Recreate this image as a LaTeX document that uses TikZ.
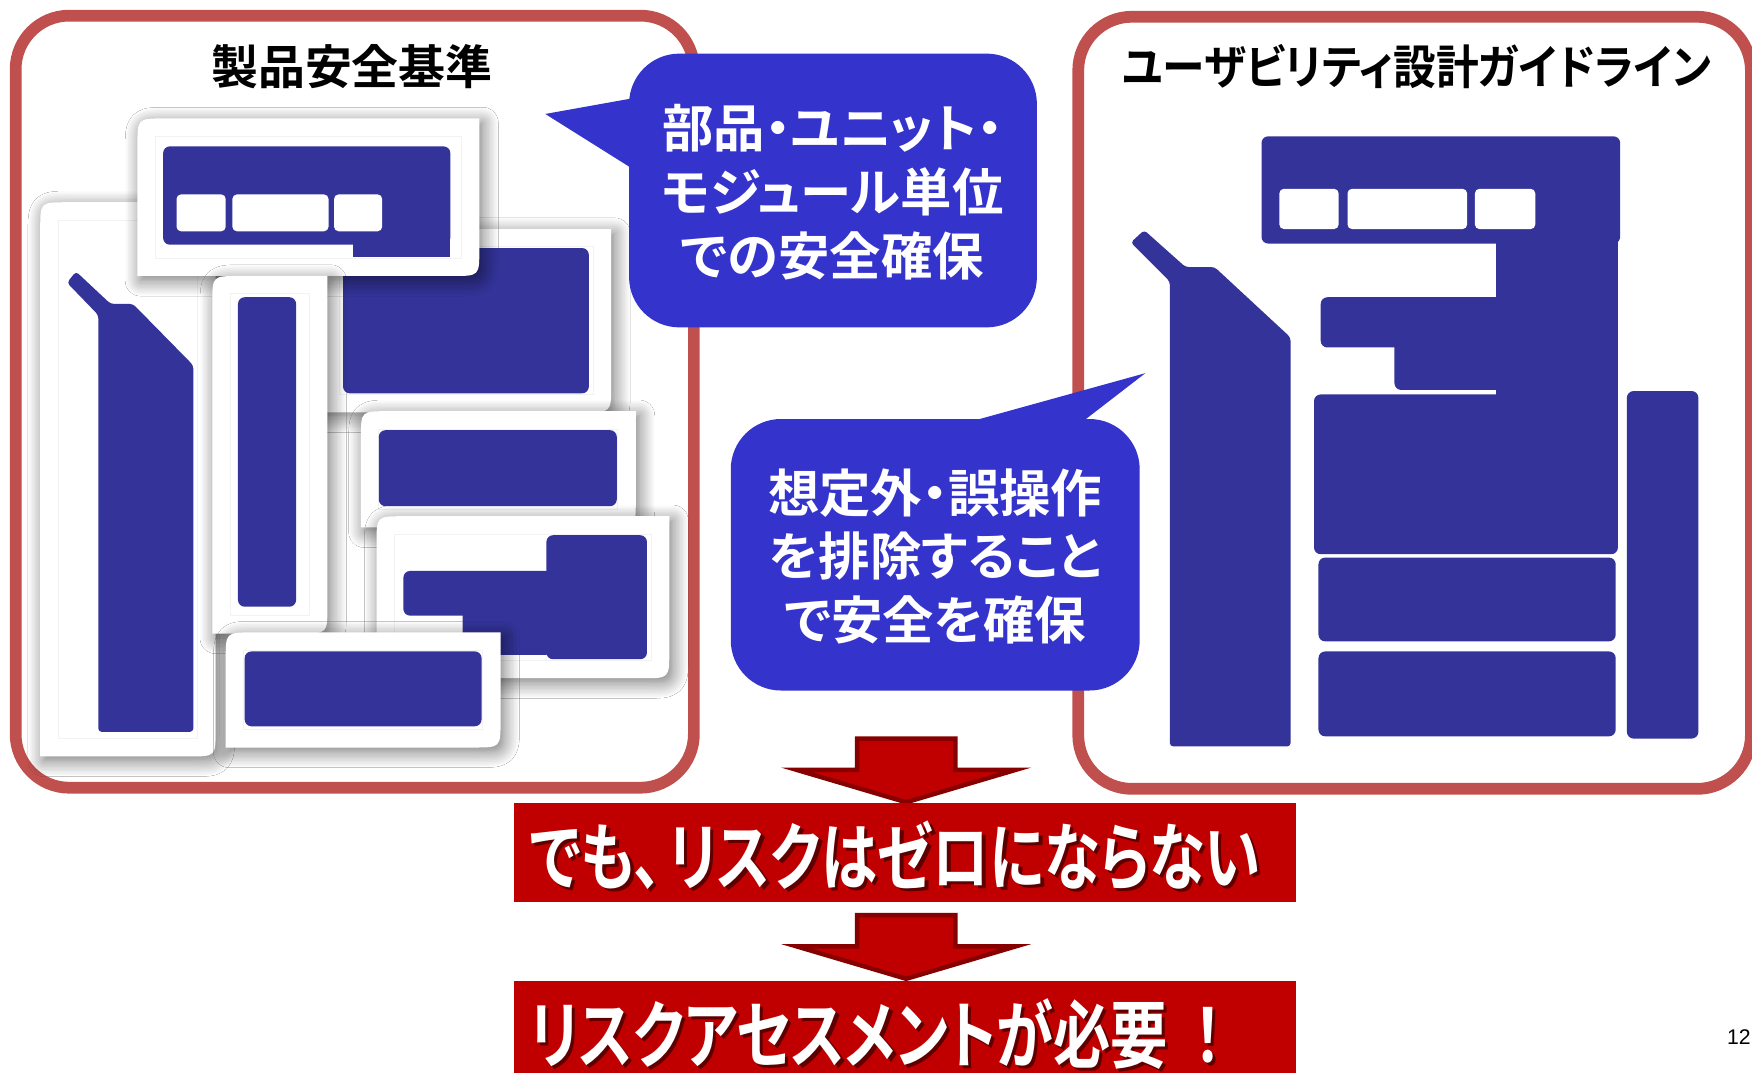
\documentclass[tikz,border=0pt]{standalone}
\usepackage{fontspec}
\newfontfamily\jp{Noto Sans CJK JP}[BoldFont={Noto Sans CJK JP Bold},RawFeature=+palt]
\newfontfamily\pagefont{Liberation Sans}
\usetikzlibrary{shadows.blur}
\definecolor{boxred}{RGB}{192,80,77}
\definecolor{callblue}{RGB}{52,52,204}
\definecolor{iconblue}{RGB}{51,51,153}
\definecolor{barred}{RGB}{192,0,0}
\definecolor{arrowdark}{RGB}{135,0,0}
\newcommand\myframe[4]{%
  \path[pframe] (#1,#4) -- (#1,#2+24) .. controls (#1,#2) .. (#1+24,#2) -- (#3,#2) -- (#3,#4-24) .. controls (#3,#4) .. (#3-24,#4) -- cycle;
  \draw[innerline] (#1+16,#2+16) rectangle (#3-16,#4-16);}
\begin{document}
\begin{tikzpicture}[x=1pt,y=-1pt,
  redframe/.style={draw=boxred, line width=10.5pt, fill=white, rounded corners=48pt},
  pframe/.style={fill=white, blur shadow={shadow xshift=3pt, shadow yshift=-4pt, shadow blur radius=14pt, shadow opacity=55, shadow blur steps=12}},
  innerline/.style={draw=black!5, line width=0.8pt},
  iconshape/.style={fill=iconblue, rounded corners=6pt},
  towershape/.style={fill=iconblue, rounded corners=3pt},
  btn/.style={fill=white, rounded corners=4pt},
  callout/.style={fill=callblue, rounded corners=45pt},
  calltail/.style={fill=callblue},
  calltext/.style={text=white, font=\jp\bfseries\fontsize{46}{57}\selectfont, align=center, inner sep=0pt},
  titletext/.style={text=black, font=\jp\bfseries\fontsize{42}{50}\selectfont, inner sep=0pt},
  bigarrow/.style={fill=barred, draw=arrowdark, line width=4pt, line join=miter},
  bar/.style={fill=barred},
  bartext/.style={text=white, font=\jp\bfseries\fontsize{66}{68}\selectfont, inner sep=0pt, anchor=west},
  barshadow/.style={text=black, opacity=0.5, font=\jp\bfseries\fontsize{66}{68}\selectfont, inner sep=0pt, anchor=west},
]
\useasboundingbox (0,0) rectangle (1568,960);
% red frames
\path[redframe] (14,14) rectangle (621,705);
\path[redframe] (965,15) rectangle (1567,706);
% titles
\node[titletext] (t1) at (315,60) {製品安全基準};
\node[titletext] (t2) at (1268,60) {\scalebox{0.91}[1]{ユーザビリティ設計ガイドライン}};

% ---------- left exploded icon ----------
% B tower
\myframe{36}{181}{193}{677}
\path[towershape] (88,282) -- (60,253) -- (68,243) -- (99,272) -- (119,272) -- (173,327) -- (173,655) -- (88,655) -- cycle;
% D body
\myframe{288}{205}{547}{369}
\path[iconshape] (307,222) rectangle (527,352);
% A scanner
\myframe{123}{106}{429}{247}
\path[iconshape] (146,131) rectangle (403,219);
\path[fill=iconblue] (316,205) rectangle (403,230);
\path[btn] (158,174) rectangle (202,207);
\path[btn] (208,174) rectangle (294,207);
\path[btn] (299,174) rectangle (342,207);
% C narrow bar
\myframe{190}{247}{293}{567}
\path[iconshape] (213,266) rectangle (265,543);
% E drawer
\myframe{323}{368}{569}{472}
\path[iconshape] (339,385) rectangle (552,453);
% F tray + column
\myframe{337}{462}{599}{607}
\path[iconshape] (489,479) rectangle (579,590);
\path[iconshape] (361,511) rectangle (495,551);
\path[iconshape] (414,540) rectangle (495,586);
% G drawer
\myframe{202}{566}{448}{669}
\path[iconshape] (219,583) rectangle (431,650);

% ---------- right assembled icon ----------
\path[towershape] (1012,217) -- (1024,206) -- (1061,239) -- (1087,239) -- (1155,302) -- (1155,668) -- (1047,668) -- (1047,252) -- cycle;
\path[iconshape] (1129,122) rectangle (1450,218);
\path[fill=iconblue] (1339,210) rectangle (1448,360);
\path[iconshape] (1182,266) rectangle (1345,311);
\path[iconshape] (1248,300) rectangle (1345,349);
\path[iconshape] (1176,353) rectangle (1448,496);
\path[iconshape] (1180,499) rectangle (1446,574);
\path[iconshape] (1180,583) rectangle (1446,659);
\path[iconshape] (1456,350) rectangle (1520,661);
\path[btn] (1145,169) rectangle (1198,205);
\path[btn] (1206,169) rectangle (1313,205);
\path[btn] (1320,169) rectangle (1374,205);

% ---------- callouts ----------
\path[callout] (563,48) rectangle (928,293);
\path[calltail] (566,88) -- (488,102) -- (566,151) -- cycle;
\node[calltext] (c1) at (745,172) {部品・ユニット・\\モジュール単位\\での安全確保};

\path[callout] (654,375) rectangle (1020,618);
\path[calltail] (866,378) -- (1025,334) -- (968,378) -- cycle;
\node[calltext] (c2) at (837,498) {想定外・誤操作\\を排除すること\\で安全を確保};

% ---------- arrows and bars ----------
\path[bigarrow] (767,661) -- (855,661) -- (855,689) -- (909,689) -- (811,718) -- (713,689) -- (767,689) -- cycle;
\path[bigarrow] (767,819) -- (855,819) -- (855,847) -- (909,847) -- (811,876) -- (713,847) -- (767,847) -- cycle;
\path[bar] (460,719) rectangle (1160,807);
\path[bar] (460,878) rectangle (1160,975);
\node[barshadow] (s1) at (477,769) {\scalebox{0.766}[1]{でも、\kern8ptリスクはゼロにならない}};
\node[bartext] (b1) at (474,766) {\scalebox{0.766}[1]{でも、\kern8ptリスクはゼロにならない}};
\node[barshadow] (s2) at (477,928) {\scalebox{0.776}[1]{リスクアセスメントが必要\kern30pt！}};
\node[bartext] (b2) at (474,925) {\scalebox{0.776}[1]{リスクアセスメントが必要\kern30pt！}};

% page number
\node[anchor=east, inner sep=0pt, font=\pagefont\fontsize{19}{21}\selectfont, text=black] (pg) at (1567,928) {12};
\end{tikzpicture}
\end{document}
